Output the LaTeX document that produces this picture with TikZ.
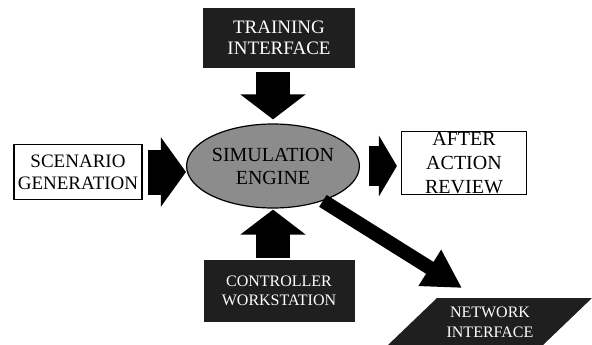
\documentclass[tikz,border=0pt]{standalone}
\usepackage{fontspec}
\setmainfont{Liberation Serif}
\usetikzlibrary{arrows.meta,shapes.geometric}

\tikzset{
  box/.style={draw=black,line width=1.2pt,fill=white,align=center,inner sep=0pt},
  darkbox/.style={fill=black!88,text=white,align=center,inner sep=0pt},
  fat/.style args={#1/#2/#3}{line width=#1,-{Triangle[length=#3,width=#2]}}
}

\begin{document}
\begin{tikzpicture}[x=1pt,y=-1pt]
                \useasboundingbox (0,0) rectangle (592,345);

                \node[darkbox,minimum width=152pt,minimum height=60pt,font=\fontsize{19}{21}\selectfont] (train) at (279,38) {TRAINING\\INTERFACE};

                \node[ellipse,draw=black,line width=1.2pt,fill=black!45,minimum width=152pt,minimum height=84pt,inner sep=0pt,align=center,font=\fontsize{20}{23}\selectfont] (engine) at (273,166) {SIMULATION\\ENGINE};

                \node[box,minimum width=128pt,minimum height=55pt,font=\fontsize{19}{22}\selectfont] (scen) at (78,172) {SCENARIO\\GENERATION};

                \node[box,minimum width=125pt,minimum height=63pt,font=\fontsize{20}{24}\selectfont] (aar) at (464,163) {AFTER\\ACTION\\REVIEW};

                \node[darkbox,minimum width=151pt,minimum height=62pt,font=\fontsize{16}{19}\selectfont] (ctrl) at (279,291) {CONTROLLER\\WORKSTATION};

                % network block, cut by the bottom edge
                \fill[black!88] (388,345) -- (437,298) -- (592,298) -- (543,345) -- cycle;
                \node[text=white,align=center,font=\fontsize{16}{20}\selectfont] (netw) at (490,322) {NETWORK\\INTERFACE};
                \coordinate (nettip) at (462,288);

                \draw[fat=34pt/64pt/25pt,shorten <=4pt,shorten >=4pt] (engine.north |- train.south) -- (engine.north);
                \draw[fat=45pt/68pt/25pt,shorten <=5pt,shorten >=0pt] (scen.east) -- (scen.east -| engine.west);
                \draw[fat=40pt/60pt/18pt,shorten <=9pt,shorten >=4pt] (engine.east) -- (engine.east -| aar.west);
                \draw[fat=34pt/64pt/25pt,shorten <=2pt,shorten >=1pt] (engine.south |- ctrl.north) -- (engine.south);
                \draw[fat=14pt/40pt/38pt] (engine.-35) -- (nettip);
            \end{tikzpicture}
\end{document}
